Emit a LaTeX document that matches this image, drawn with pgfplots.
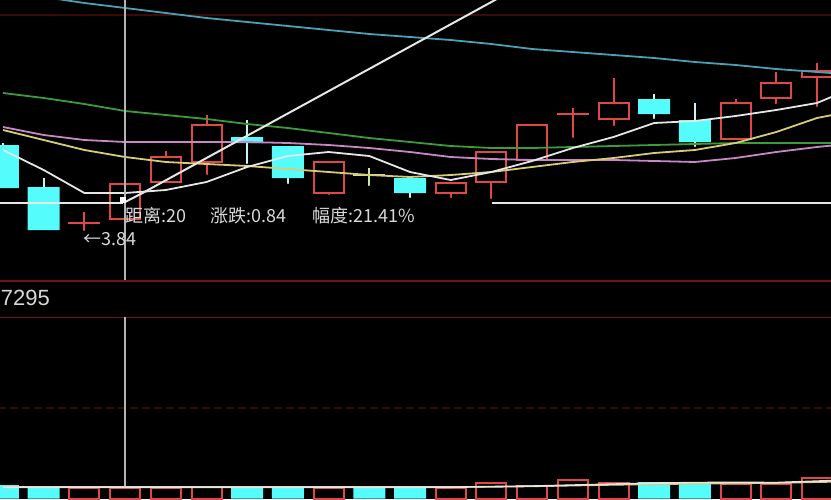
\documentclass[border=0pt]{standalone}
\usepackage{pgfplots}
\pgfplotsset{compat=1.18}
\usepackage{pgfplotstable}
\usepackage{fontspec}
\setmainfont{Liberation Sans}
\newfontfamily\cjk{Noto Sans CJK SC}

\definecolor{kred}{HTML}{E04848}
\definecolor{kcyan}{HTML}{54FCFC}
\definecolor{wickc}{HTML}{C8F4F4}
\definecolor{maw}{HTML}{E6E6E6}
\definecolor{may}{HTML}{D8CC78}
\definecolor{map}{HTML}{C888C8}
\definecolor{mag}{HTML}{3C9C3C}
\definecolor{mat}{HTML}{4AA0B4}
\definecolor{gridred}{HTML}{6A1414}
\definecolor{gridfaint}{HTML}{3A0A0A}
\definecolor{txtc}{HTML}{D8D8D8}
\definecolor{dojig}{HTML}{C8E8A0}
\definecolor{crossc}{HTML}{B4B4B4}

% rising (red) candles; the two crosses close 0.001 above the open
\pgfplotstableread{
x open high low close
2 3.8720 3.9000 3.8425 3.8730
3 3.8825 3.9700 3.8825 3.9700
4 3.9750 4.0525 3.9750 4.0375
5 4.0250 4.1425 3.9825 4.1175
8 3.9475 4.0250 3.9325 4.0250
11 3.9475 3.9750 3.9250 3.9725
12 3.9750 4.0500 3.9225 4.0500
13 4.0300 4.1175 4.0300 4.1175
14 4.1445 4.1600 4.0750 4.1455
15 4.1325 4.2350 4.1050 4.1725
18 4.0825 4.1825 4.0825 4.1725
19 4.1850 4.2500 4.1600 4.2225
20 4.2375 4.2725 4.1525 4.2525
}\upk
% falling (cyan) candles
\pgfplotstableread{
x open high low close
0 4.0675 4.0725 3.9550 3.9600
1 3.9625 3.9850 3.8550 3.8550
6 4.0875 4.1300 4.0100 4.0725
7 4.0650 4.0650 3.9600 3.9850
10 3.9850 3.9900 3.9250 3.9475
16 4.1825 4.1950 4.1225 4.1450
17 4.1300 4.1725 4.0525 4.0750
}\downk
% flat candle
\pgfplotstableread{
x open high low close
9 3.9920 4.0100 3.9550 3.9930
}\flatk
% moving averages
\pgfplotstableread{
x ma5 ma10 ma20 ma30 ma60
0 4.0550 4.1050 4.1125 4.1975 4.4525
1 4.0050 4.0800 4.0925 4.1850 4.4375
2 3.9475 4.0550 4.0800 4.1700 4.4225
3 3.9475 4.0375 4.0750 4.1525 4.4100
4 3.9550 4.0250 4.0750 4.1425 4.3975
5 3.9750 4.0200 4.0750 4.1325 4.3850
6 4.0125 4.0150 4.0750 4.1200 4.3750
7 4.0400 4.0075 4.0725 4.1100 4.3650
8 4.0500 4.0000 4.0675 4.0975 4.3550
9 4.0400 3.9925 4.0600 4.0850 4.3450
10 4.0000 3.9875 4.0500 4.0750 4.3375
11 3.9800 3.9925 4.0375 4.0650 4.3300
12 4.0000 4.0000 4.0325 4.0600 4.3200
13 4.0275 4.0125 4.0300 4.0600 4.3075
14 4.0600 4.0250 4.0300 4.0625 4.3000
15 4.0875 4.0350 4.0300 4.0650 4.2925
16 4.1225 4.0475 4.0275 4.0675 4.2850
17 4.1275 4.0550 4.0250 4.0700 4.2750
18 4.1400 4.0725 4.0350 4.0725 4.2675
19 4.1550 4.1000 4.0500 4.0725 4.2575
20 4.1725 4.1350 4.0625 4.0725 4.2500
21 4.2150 4.1550 4.0725 4.0725 4.2425
}\mas
% volumes
\pgfplotstableread{
x vol
2 424
3 424
4 424
5 464
8 424
11 424
12 625
13 504
14 746
15 625
18 585
19 585
20 826
}\upv
\pgfplotstableread{
x vol
0 544
1 464
6 464
7 464
9 464
10 464
16 665
17 665
}\downv
\pgfplotstableread{
x m5 m10
0 455 470
1 455 470
2 455 470
3 455 470
4 455 470
5 455 470
6 455 470
7 455 470
8 455 470
9 455 470
10 455 470
11 455 470
12 480 470
13 500 490
14 540 520
15 580 550
16 620 575
17 640 595
18 650 610
19 640 625
20 700 660
21 760 690
}\volma

\pgfplotsset{
  kbase/.style={width=415.5pt, height=140pt, scale only axis,
    xmin=-0.0737, xmax=20.344, ymin=3.73, ymax=4.43,
    hide axis, clip=true, anchor=south west, at={(0pt,109.5pt)}},
  vbase/.style={width=415.5pt, height=109.5pt, scale only axis,
    xmin=-0.0737, xmax=20.344, ymin=-20, ymax=8806,
    hide axis, clip=true, anchor=south west, at={(0pt,0pt)}},
}

\begin{document}
\begin{tikzpicture}
\fill[black] (0,0) rectangle (415.5pt,249.5pt);

% wicks
\begin{axis}[kbase]
\addplot[only marks, mark=none, error bars/.cd, y dir=plus, y explicit, error mark=none,
  error bar style={draw=kred, line width=1pt}]
  table[x=x, y=low, y error expr=\thisrow{high}-\thisrow{low}] \upk;
\addplot[only marks, mark=none, error bars/.cd, y dir=plus, y explicit, error mark=none,
  error bar style={draw=wickc, line width=1pt}]
  table[x=x, y=low, y error expr=\thisrow{high}-\thisrow{low}] \downk;
\addplot[only marks, mark=none, error bars/.cd, y dir=plus, y explicit, error mark=none,
  error bar style={draw=dojig, line width=1pt}]
  table[x=x, y=low, y error expr=\thisrow{high}-\thisrow{low}] \flatk;
\end{axis}

% rising bodies
\begin{axis}[kbase, ybar stacked, bar width=15pt]
\addplot[draw=none, fill=none] table[x=x, y expr={min(\thisrow{open},\thisrow{close})}] \upk;
\addplot[draw=kred, fill=black, line width=1pt] table[x=x, y expr={abs(\thisrow{close}-\thisrow{open})}] \upk;
\end{axis}

% flat body
\begin{axis}[kbase, ybar stacked, bar width=15pt]
\addplot[draw=none, fill=none] table[x=x, y expr={min(\thisrow{open},\thisrow{close})}] \flatk;
\addplot[draw=dojig, fill=dojig, line width=1pt] table[x=x, y expr={abs(\thisrow{close}-\thisrow{open})}] \flatk;
\end{axis}

% falling bodies
\begin{axis}[kbase, ybar stacked, bar width=16pt]
\addplot[draw=none, fill=none] table[x=x, y expr={min(\thisrow{open},\thisrow{close})}] \downk;
\addplot[draw=none, fill=kcyan] table[x=x, y expr={abs(\thisrow{close}-\thisrow{open})}] \downk;
\end{axis}

% moving averages, tools and texts
\begin{axis}[kbase]
\addplot[gridfaint, line width=0.6pt] coordinates {(-1,4.3925) (22,4.3925)};
\addplot[mat, line width=0.9pt] table[x=x, y=ma60] \mas;
\addplot[mag, line width=0.9pt] table[x=x, y=ma30] \mas;
\addplot[map, line width=0.9pt] table[x=x, y=ma20] \mas;
\addplot[may, line width=0.9pt] table[x=x, y=ma10] \mas;
\addplot[maw, line width=0.9pt] table[x=x, y=ma5] \mas;
% measuring tool
\addplot[crossc, line width=1pt] coordinates {(3.0,4.45) (3.0,3.70)};
\addplot[maw, line width=1pt] coordinates {(-0.2,3.9225) (2.95,3.9225)};
\addplot[maw, line width=1pt] coordinates {(12.01,3.9225) (21,3.9225)};
\addplot[maw, line width=1pt] coordinates {(3.0,3.925) (3.43,3.9475) (12.09,4.43) (12.5,4.453)};
\addplot[only marks, mark=square*, mark size=1.2pt, color=white] coordinates {(2.95,3.93)};
\node[anchor=west, text=txtc, font=\cjk\fontsize{9}{10}\selectfont, inner sep=0pt] at (axis cs:2.99,3.89) {距离:20};
\node[anchor=west, text=txtc, font=\cjk\fontsize{9}{10}\selectfont, inner sep=0pt] at (axis cs:5.08,3.89) {涨跌:0.84};
\node[anchor=west, text=txtc, font=\cjk\fontsize{9}{10}\selectfont, inner sep=0pt] at (axis cs:7.59,3.89) {幅度:21.41\%};
\node[anchor=west, text=txtc, font=\cjk\fontsize{9}{10}\selectfont, inner sep=0pt] at (axis cs:1.96,3.8325) {←3.84};
\end{axis}

% volume panel
\begin{axis}[vbase]
\addplot[gridred, line width=1pt] coordinates {(-1,8780) (22,8780)};
\addplot[gridred, line width=0.7pt] coordinates {(-1,7295) (22,7295)};
\addplot[gridfaint, line width=0.7pt, dash pattern=on 4pt off 2pt] coordinates {(-1,3650) (22,3650)};
\addplot[crossc, line width=1pt] coordinates {(3.0,7330) (3.0,-100)};
\addplot[ybar, bar width=15pt, bar shift=0pt, draw=kred, fill=black, line width=1pt] table[x=x, y=vol] \upv;
\addplot[ybar, bar width=16pt, bar shift=0pt, draw=none, fill=kcyan] table[x=x, y=vol] \downv;
\addplot[may, line width=0.8pt] table[x=x, y=m10] \volma;
\addplot[maw, line width=0.8pt] table[x=x, y=m5] \volma;
\node[anchor=west, text=txtc, font=\fontsize{11}{12}\selectfont, inner sep=0pt] at (axis cs:-0.06,8080) {7295};
\end{axis}

\pgfresetboundingbox
\path[use as bounding box] (0,0) rectangle (415.5pt,249.5pt);
\end{tikzpicture}
\end{document}
